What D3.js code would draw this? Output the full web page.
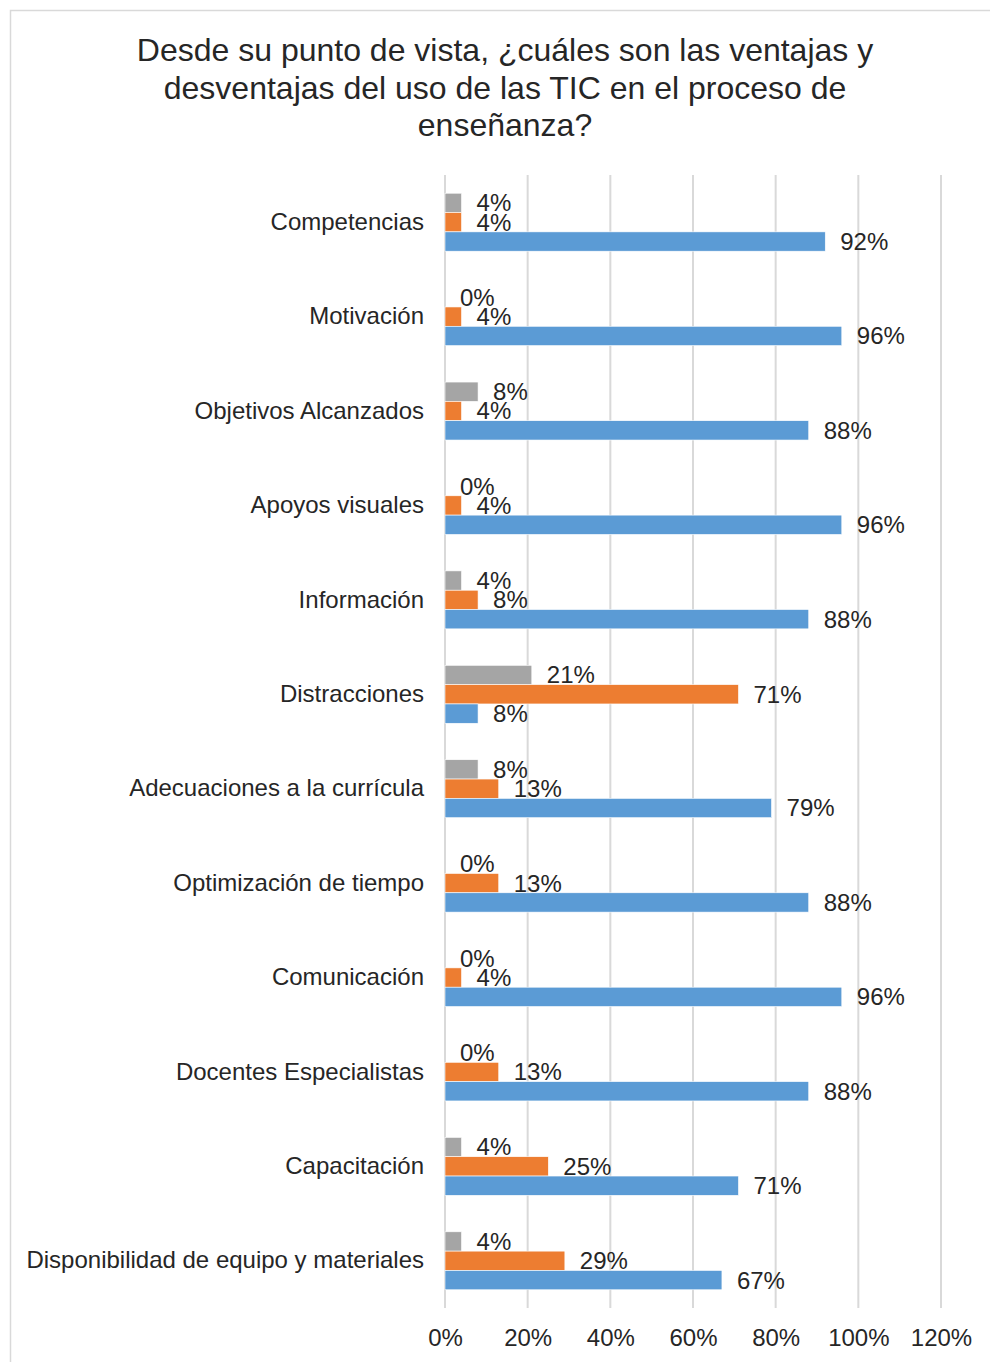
<!DOCTYPE html>
<html>
<head>
<meta charset="utf-8">
<script src="https://cdn.jsdelivr.net/npm/d3@7"></script>
<style>
  body { margin: 0; background: #fff; }
  text { font-family: "Liberation Sans", Arial, sans-serif; fill: #262626; }
</style>
</head>
<body>
<div id="chart"></div>
<script>
// categories, top to bottom
const categories = [
  "Competencias", "Motivación", "Objetivos Alcanzados", "Apoyos visuales",
  "Información", "Distracciones", "Adecuaciones a la currícula",
  "Optimización de tiempo", "Comunicación", "Docentes Especialistas",
  "Capacitación", "Disponibilidad de equipo y materiales"
];
// series values in percent
const seriesBlue   = [92, 96, 88, 96, 88, 8, 79, 88, 96, 88, 71, 67];
const seriesOrange = [4, 4, 4, 4, 8, 71, 13, 13, 4, 13, 25, 29];
const seriesGray   = [4, 0, 8, 0, 4, 21, 8, 0, 0, 0, 4, 4];
const xTicks = [0, 20, 40, 60, 80, 100, 120];
const titleLines = [
  "Desde su punto de vista, ¿cuáles son las ventajas y",
  "desventajas del uso de las TIC en el proceso de",
  "enseñanza?"
];

const cfg = {
  w: 990, h: 1362,
  margin: {top: 175, right: 49, bottom: 54, left: 445},
  colors: {gray: "#A5A5A5", orange: "#ED7D31", blue: "#5B9BD5"}
};

const width = cfg.w - cfg.margin.left - cfg.margin.right,
  height = cfg.h - cfg.margin.top - cfg.margin.bottom;

const svg = d3.select("#chart").append("svg")
  .attr("width", cfg.w)
  .attr("height", cfg.h);

// chart area border
svg.append("path")
  .attr("d", `M10.5,${cfg.h + 5} V10.5 H${cfg.w + 5}`)
  .attr("fill", "none")
  .attr("stroke", "#D9D9D9")
  .attr("stroke-width", 1.5);

// title
svg.append("text")
  .attr("x", 505)
  .attr("y", 61)
  .attr("text-anchor", "middle")
  .style("font-size", "32px")
  .selectAll("tspan")
  .data(titleLines)
  .enter().append("tspan")
  .attr("x", 505)
  .attr("dy", (d, i) => i === 0 ? 0 : 37.5)
  .text(d => d);

const g = svg.append("g")
  .attr("transform", `translate(${cfg.margin.left},${cfg.margin.top})`);

const x = d3.scaleLinear().domain([0, 120]).range([0, width]);
const y = d3.scaleBand().domain(categories).range([0, height])
  .paddingInner(0.386).paddingOuter(0.193);

const series = [
  {key: "gray", values: seriesGray},
  {key: "orange", values: seriesOrange},
  {key: "blue", values: seriesBlue}
];
const ySub = d3.scaleBand().domain(series.map(s => s.key)).range([0, y.bandwidth()]);

// gridlines
g.append("g")
  .selectAll("line")
  .data(xTicks)
  .enter().append("line")
  .attr("x1", d => x(d)).attr("x2", d => x(d))
  .attr("y1", 0).attr("y2", height)
  .attr("stroke", "#D9D9D9")
  .attr("stroke-width", 2);

// x axis labels
const xAxis = d3.axisBottom(x).tickValues(xTicks).tickSize(0).tickPadding(21)
  .tickFormat(d => d + "%");
g.append("g")
  .attr("transform", `translate(0,${height})`)
  .call(xAxis)
  .call(a => a.select(".domain").remove())
  .selectAll("text")
  .style("font-size", "24px")
  .attr("fill", "#262626");

// category labels
const yAxis = d3.axisLeft(y).tickSize(0).tickPadding(21);
g.append("g")
  .call(yAxis)
  .call(a => a.select(".domain").remove())
  .selectAll("text")
  .style("font-size", "24px")
  .attr("fill", "#262626");

// bars
series.forEach(s => {
  const grp = g.append("g");
  grp.selectAll("rect")
    .data(s.values)
    .enter().append("rect")
    .attr("x", 0)
    .attr("y", (d, i) => y(categories[i]) + ySub(s.key))
    .attr("width", d => x(d))
    .attr("height", ySub.bandwidth())
    .attr("fill", cfg.colors[s.key])
    .attr("stroke", "#fff")
    .attr("stroke-width", 0.6);
  grp.selectAll("text")
    .data(s.values)
    .enter().append("text")
    .attr("x", d => x(d) + 15)
    .attr("y", (d, i) => y(categories[i]) + ySub(s.key) + ySub.bandwidth() / 2)
    .attr("dy", "0.35em")
    .style("font-size", "24px")
    .text(d => d + "%");
});
</script>
</body>
</html>
